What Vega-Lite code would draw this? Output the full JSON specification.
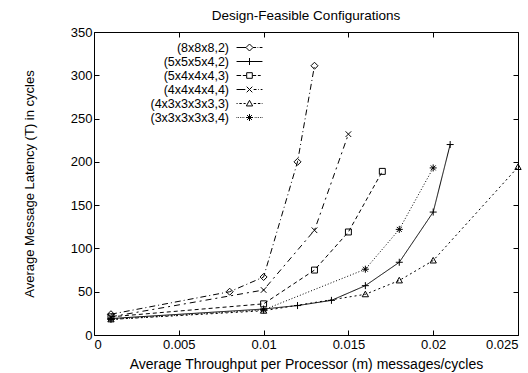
{
  "$schema": "https://vega.github.io/schema/vega-lite/v6.json",
  "width": 424,
  "height": 303,
  "autosize": {"type": "none"},
  "padding": {"left": 94, "top": 32, "right": 10, "bottom": 38},
  "background": "white",
  "title": {"text": "Design-Feasible Configurations", "fontSize": 13.5, "fontWeight": "normal", "font": "Liberation Sans", "color": "black", "offset": 4, "anchor": "middle"},
  "config": {
    "view": {"stroke": "black", "strokeWidth": 1},
    "axis": {"grid": false, "domain": false, "tickColor": "black", "tickSize": -5, "labelFont": "Liberation Sans", "labelFontSize": 13, "labelColor": "black", "titleFont": "Liberation Sans", "titleFontSize": 13, "titleFontWeight": "normal", "titleColor": "black"},
    "legend": {"labelFont": "Liberation Sans", "labelFontSize": 12.5, "labelColor": "black"}
  },
  "data": {"values": [
    {"series": "(8x8x8,2)", "x": 0.001, "y": 24},
    {"series": "(8x8x8,2)", "x": 0.008, "y": 50},
    {"series": "(8x8x8,2)", "x": 0.01, "y": 67},
    {"series": "(8x8x8,2)", "x": 0.012, "y": 200},
    {"series": "(8x8x8,2)", "x": 0.013, "y": 311},
    {"series": "(5x5x5x4,2)", "x": 0.001, "y": 19},
    {"series": "(5x5x5x4,2)", "x": 0.01, "y": 30},
    {"series": "(5x5x5x4,2)", "x": 0.012, "y": 34},
    {"series": "(5x5x5x4,2)", "x": 0.014, "y": 40},
    {"series": "(5x5x5x4,2)", "x": 0.016, "y": 57},
    {"series": "(5x5x5x4,2)", "x": 0.018, "y": 84},
    {"series": "(5x5x5x4,2)", "x": 0.02, "y": 142},
    {"series": "(5x5x5x4,2)", "x": 0.021, "y": 220},
    {"series": "(5x4x4x4,3)", "x": 0.001, "y": 21},
    {"series": "(5x4x4x4,3)", "x": 0.01, "y": 36},
    {"series": "(5x4x4x4,3)", "x": 0.013, "y": 75},
    {"series": "(5x4x4x4,3)", "x": 0.015, "y": 119},
    {"series": "(5x4x4x4,3)", "x": 0.017, "y": 189},
    {"series": "(4x4x4x4,4)", "x": 0.001, "y": 21},
    {"series": "(4x4x4x4,4)", "x": 0.01, "y": 52},
    {"series": "(4x4x4x4,4)", "x": 0.013, "y": 121},
    {"series": "(4x4x4x4,4)", "x": 0.015, "y": 232},
    {"series": "(4x3x3x3x3,3)", "x": 0.001, "y": 18},
    {"series": "(4x3x3x3x3,3)", "x": 0.01, "y": 28},
    {"series": "(4x3x3x3x3,3)", "x": 0.016, "y": 47},
    {"series": "(4x3x3x3x3,3)", "x": 0.018, "y": 63},
    {"series": "(4x3x3x3x3,3)", "x": 0.02, "y": 86},
    {"series": "(4x3x3x3x3,3)", "x": 0.025, "y": 194},
    {"series": "(3x3x3x3x3,4)", "x": 0.001, "y": 18},
    {"series": "(3x3x3x3x3,4)", "x": 0.01, "y": 29},
    {"series": "(3x3x3x3x3,4)", "x": 0.016, "y": 76},
    {"series": "(3x3x3x3x3,4)", "x": 0.018, "y": 122},
    {"series": "(3x3x3x3x3,4)", "x": 0.02, "y": 193}
  ]},
  "layer": [
    {
      "mark": {"type": "line", "color": "black", "strokeWidth": 1},
      "encoding": {
        "x": {"field": "x", "type": "quantitative", "scale": {"domain": [0, 0.025], "nice": false}, "axis": {"orient": "bottom", "values": [0, 0.005, 0.01, 0.015, 0.02, 0.025], "format": "~g", "labelPadding": 8, "title": "Average Throughput per Processor (m) messages/cycles", "titlePadding": 6, "titleFontSize": 14}},
        "y": {"field": "y", "type": "quantitative", "scale": {"domain": [0, 350], "nice": false}, "axis": {"orient": "left", "values": [0, 50, 100, 150, 200, 250, 300, 350], "labelPadding": 7, "title": "Average Message Latency (T) in cycles", "titlePadding": 34}},
        "detail": {"field": "series"},
        "strokeDash": {"field": "series", "type": "nominal", "legend": null, "scale": {
          "domain": ["(8x8x8,2)", "(5x5x5x4,2)", "(5x4x4x4,3)", "(4x4x4x4,4)", "(4x3x3x3x3,3)", "(3x3x3x3x3,4)"],
          "range": [[6, 3, 1, 3], [1, 0], [4, 3], [6, 4, 2, 4], [2, 3], [1, 2]]}}
      }
    },
    {
      "mark": {"type": "point", "filled": false, "stroke": "black", "strokeWidth": 1, "size": 49, "opacity": 1},
      "encoding": {
        "x": {"field": "x", "type": "quantitative", "axis": {"orient": "top", "values": [0, 0.005, 0.01, 0.015, 0.02, 0.025], "labels": false, "title": null}},
        "y": {"field": "y", "type": "quantitative", "axis": {"orient": "right", "values": [0, 50, 100, 150, 200, 250, 300, 350], "labels": false, "title": null}},
        "shape": {"field": "series", "type": "nominal", "legend": null, "scale": {
          "domain": ["(8x8x8,2)", "(5x5x5x4,2)", "(5x4x4x4,3)", "(4x4x4x4,4)", "(4x3x3x3x3,3)", "(3x3x3x3x3,4)"],
          "range": ["M0,-1L1,0L0,1L-1,0Z", "M-1,0H1M0,-1V1", "M-0.85,-0.85H0.85V0.85H-0.85Z", "M-0.8,-0.8L0.8,0.8M-0.8,0.8L0.8,-0.8", "M0,-0.9L0.9,0.7H-0.9Z", "M-1,0H1M0,-1V1M-0.7,-0.7L0.7,0.7M-0.7,0.7L0.7,-0.7"]}}
      }
    },
    {
      "transform": [{"filter": "datum.y < 0"}],
      "mark": {"type": "point", "filled": false, "stroke": "black"},
      "encoding": {
        "x": {"field": "x", "type": "quantitative", "axis": null},
        "y": {"field": "y", "type": "quantitative", "axis": null},
        "shape": {"field": "series", "type": "nominal", "scale": {
          "domain": ["(8x8x8,2)", "(5x5x5x4,2)", "(5x4x4x4,3)", "(4x4x4x4,4)", "(4x3x3x3x3,3)", "(3x3x3x3x3,4)"],
          "range": [
            "M-1.85,0H-0.5M0.5,0H0.95M1.15,0H1.25M1.45,0H1.85M0,-0.5L0.5,0L0,0.5L-0.5,0Z",
            "M-1.85,0H1.85M0,-0.5V0.5",
            "M-1.85,0H-1.2M-0.95,0H-0.45M0.45,0H0.95M1.2,0H1.6M0.4,0H0.45M-0.4,-0.4H0.4V0.4H-0.4Z",
            "M-1.85,0H-0.6M0.6,0H1.0M1.25,0H1.35M1.6,0H1.85M-0.4,-0.4L0.4,0.4M-0.4,0.4L0.4,-0.4",
            "M-1.85,0H-1.7M-1.45,0H-1.1M-0.85,0H-0.55M0.6,0H0.95M1.2,0H1.55M1.75,0H1.85M0,-0.45L0.45,0.35H-0.45Z",
            "M-1.85,0H-1.75M-1.6,0H-1.5M-1.35,0H-1.25M-1.1,0H-1.0M-0.85,0H-0.75M0.75,0H0.85M1.0,0H1.1M1.25,0H1.35M1.5,0H1.6M1.75,0H1.85M-0.5,0H0.5M0,-0.5V0.5M-0.35,-0.35L0.35,0.35M-0.35,0.35L0.35,-0.35"
          ]},
          "legend": {"orient": "none", "legendX": 148, "legendY": 8, "title": null, "labelAlign": "right", "labelOffset": -28, "symbolSize": 196, "symbolStrokeColor": "black", "symbolFillColor": "transparent", "symbolStrokeWidth": 1, "symbolOpacity": 1, "rowPadding": 0, "padding": 0, "labelLimit": 0}
        }
      }
    }
  ],
  "resolve": {"scale": {"shape": "independent"}, "axis": {"x": "independent", "y": "independent"}}
}
